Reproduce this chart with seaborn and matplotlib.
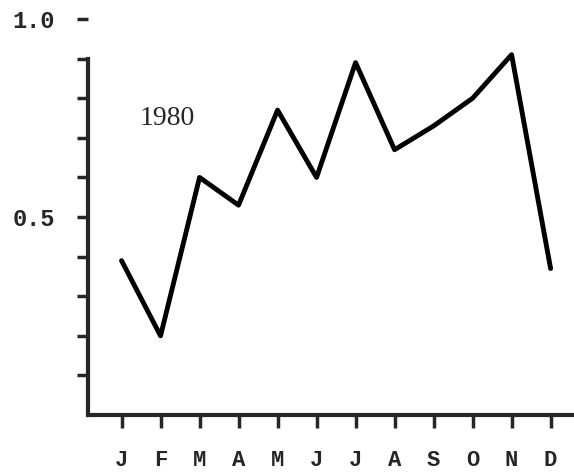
import matplotlib
matplotlib.use("Agg")
import matplotlib.pyplot as plt
import seaborn as sns
import pandas as pd

# monthly values
months = ['J', 'F', 'M', 'A', 'M', 'J', 'J', 'A', 'S', 'O', 'N', 'D']
values = [0.39, 0.20, 0.60, 0.53, 0.77, 0.60, 0.89, 0.67, 0.73, 0.80, 0.91, 0.37]
year_label = '1980'
y_ticks = [0.1, 0.2, 0.3, 0.4, 0.5, 0.6, 0.7, 0.8, 0.9, 1.0]
y_ticklabels = ['', '', '', '', '0.5', '', '', '', '', '1.0']

df = pd.DataFrame({'month': range(len(months)), 'value': values})

sns.set_style('ticks')
plt.rcParams['font.family'] = ['Liberation Mono', 'DejaVu Sans']

fig = plt.figure(figsize=(5.74, 4.76), dpi=100)
ax = fig.add_axes([0.1533, 0.128, 0.8467, 0.832])

sns.lineplot(data=df, x='month', y='value', ax=ax, color='black', linewidth=3.5)

ax.set_xlim(-0.86, 11.6)
ax.set_ylim(0, 1.0)
ax.set_xticks(range(len(months)))
ax.set_xticklabels(months, fontsize=16, fontweight='bold')
ax.set_yticks(y_ticks)
ax.set_yticklabels(y_ticklabels, fontsize=17, fontweight='bold')
ax.set_xlabel('')
ax.set_ylabel('')

for side in ['top', 'right']:
    ax.spines[side].set_visible(False)
for side in ['left', 'bottom']:
    ax.spines[side].set_linewidth(3)
ax.spines['left'].set_bounds(0, 0.9)

ax.tick_params(axis='x', direction='out', length=9, width=2.5, pad=16)
ax.tick_params(axis='y', direction='out', length=8, width=2.5, pad=16)

ax.text(0.47, 0.75, year_label, ha='left', va='center', fontsize=20,
        family='Liberation Serif')

fig.savefig('out.png', dpi=100)
